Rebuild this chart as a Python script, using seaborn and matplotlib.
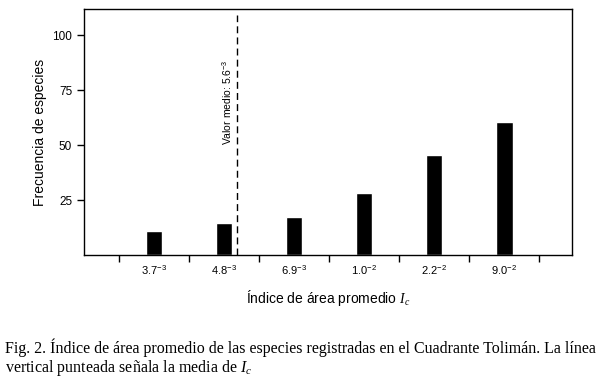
import matplotlib
matplotlib.use("Agg")
import pandas as pd
import matplotlib.pyplot as plt
import seaborn as sns

# Data
categorias = ["3.7$^{-3}$", "4.8$^{-3}$", "6.9$^{-3}$", "1.0$^{-2}$", "2.2$^{-2}$", "9.0$^{-2}$"]
frecuencia = [11, 14.5, 17.3, 28.2, 45.5, 60.5]
valor_medio = 1.19  # position of the mean (5.6e-3) between categories 4.8e-3 and 6.9e-3

df = pd.DataFrame({"indice": categorias, "frecuencia": frecuencia})

sns.set_style("white")
plt.rcParams['font.family'] = ['Liberation Sans', 'DejaVu Sans']
plt.rcParams['text.color'] = 'black'
plt.rcParams['axes.labelcolor'] = 'black'
plt.rcParams['xtick.color'] = 'black'
plt.rcParams['ytick.color'] = 'black'
plt.rcParams['mathtext.fontset'] = 'custom'
plt.rcParams['mathtext.rm'] = 'Liberation Sans'
plt.rcParams['mathtext.it'] = 'Liberation Serif:italic'
plt.rcParams['mathtext.default'] = 'regular'

fig = plt.figure(figsize=(6.05, 3.85), dpi=100)
ax = fig.add_axes([0.1388, 0.3377, 0.8067, 0.6389])

sns.barplot(data=df, x="indice", y="frecuencia", order=categorias, color="black",
            width=0.24, saturation=1, ax=ax)

# dashed line marking the mean
ax.axvline(valor_medio, ymin=0, ymax=0.975, color="black", linestyle=(0, (5, 3)), linewidth=1)
ax.text(1.05, 69.5, "Valor medio: 5.6$^{-3}$", rotation=90, ha="center", va="center", fontsize=7.5)

ax.set_xlim(-1.0, 5.97)
ax.set_ylim(0, 112)
ax.set_yticks([25, 50, 75, 100])
ax.set_xticks(range(len(categorias)))
ax.set_xticklabels(categorias, fontsize=8)
ax.set_xticks([i - 0.5 for i in range(7)], minor=True)
ax.tick_params(axis="x", which="major", length=0, pad=6)
ax.tick_params(axis="x", which="minor", bottom=True, length=5, width=1, direction="out", color="black")
ax.tick_params(axis="y", length=5, width=1, direction="out", color="black", labelsize=8.5, left=True)

for s in ax.spines.values():
    s.set_visible(True)
    s.set_color("black")
    s.set_linewidth(1)

ax.set_xlabel(r"Índice de área promedio $\mathit{I}_{\mathit{c}}$", fontsize=10, labelpad=8)
ax.set_ylabel("Frecuencia de especies", fontsize=10, labelpad=4)

# caption below the chart
fig.text(0.008, 0.097, "Fig. 2. Índice de área promedio de las especies registradas en el Cuadrante Tolimán. La línea",
         family="Liberation Serif", fontsize=11.5, va="center")
fig.text(0.008, 0.045, r"vertical punteada señala la media de $\mathit{I}_{\mathit{c}}$",
         family="Liberation Serif", fontsize=11.5, va="center")

plt.savefig("out.png", dpi=100)
